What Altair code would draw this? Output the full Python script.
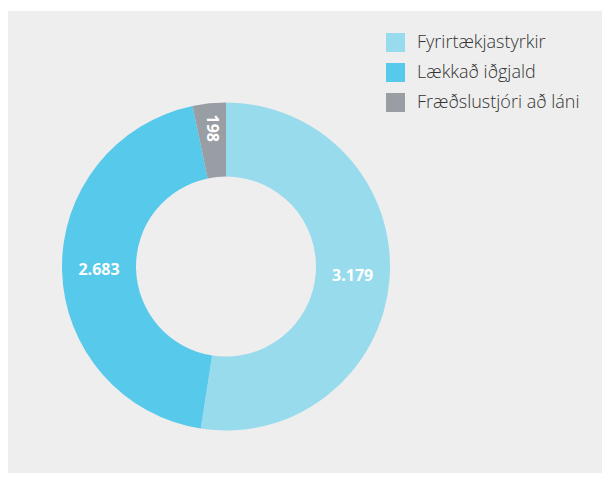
import altair as alt
import pandas as pd

categories = ["Fyrirtækjastyrkir", "Lækkað iðgjald", "Fræðslustjóri að láni"]
values = [3179, 2683, 198]
labels = ["3.179", "2.683", "198"]
colors = ["#98dbed", "#57c9ea", "#999ea4"]

df = pd.DataFrame({
    "category": categories,
    "value": values,
    "label": labels,
    "order": list(range(len(categories))),
})

cx, cy = 218, 255.5

base = alt.Chart(df).encode(
    theta=alt.Theta("value:Q", stack=True),
    order=alt.Order("order:Q"),
    x=alt.value(cx),
    y=alt.value(cy),
)

arcs = base.mark_arc(outerRadius=164, innerRadius=90).encode(
    color=alt.Color(
        "category:N",
        scale=alt.Scale(domain=categories, range=colors),
        sort=categories,
        legend=alt.Legend(
            title=None,
            orient="none",
            legendX=378,
            legendY=22,
            symbolType="square",
            symbolSize=361,
            symbolStrokeWidth=0,
            labelFontSize=18,
            labelFont="Open Sans",
            labelColor="#333333",
            labelFontWeight=300,
            labelLimit=400,
            rowPadding=11,
            labelOffset=12,
        ),
    )
)

big_labels = base.transform_calculate(
    txt="datum.value >= 500 ? datum.label : ''"
).mark_text(
    radius=127, color="white", fontSize=16, fontWeight="bold", font="Open Sans"
).encode(text="txt:N")

small_labels = base.transform_calculate(
    txt="datum.value < 500 ? datum.label : ''"
).mark_text(
    radius=139, angle=90, color="white", fontSize=16, fontWeight="bold", font="Open Sans"
).encode(text="txt:N")

chart = alt.layer(arcs, big_labels, small_labels).properties(
    width=594,
    height=465,
    autosize=alt.AutoSizeParams(type="fit", contains="padding"),
    padding={"top": 3, "left": 0, "right": 0, "bottom": 0},
    background="white",
).configure_view(stroke=None, fill="#eeeeee")

chart.save("out.html", embed_options={"renderer": "svg", "actions": False})
